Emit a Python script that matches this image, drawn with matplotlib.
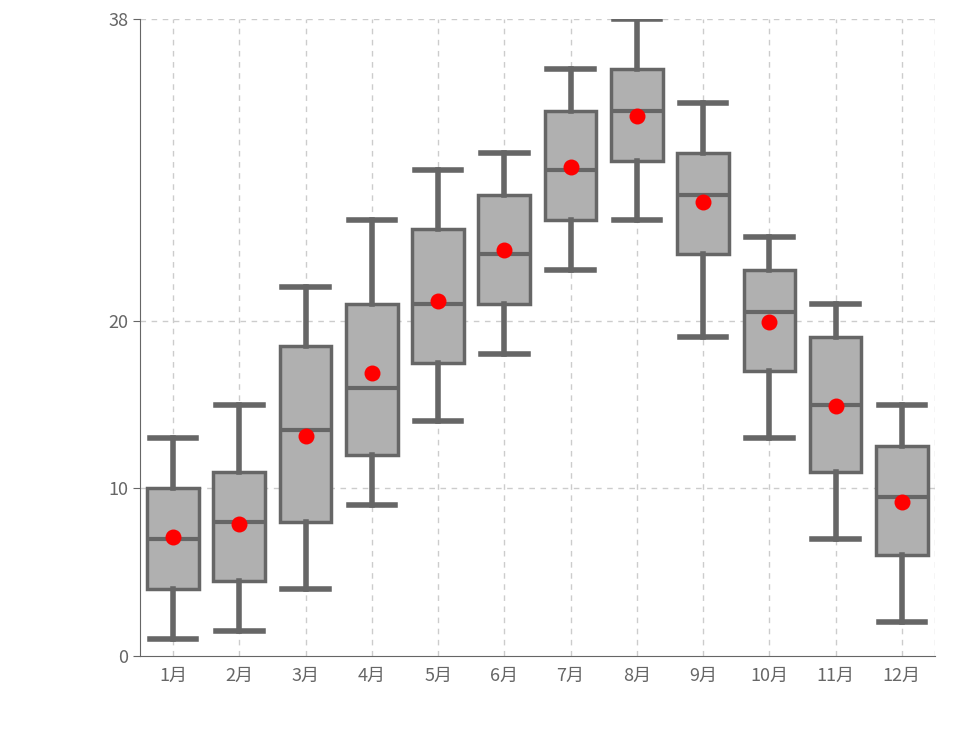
import matplotlib
matplotlib.use("Agg")
import matplotlib.pyplot as plt

plt.rcParams['font.family'] = ['Noto Sans CJK SC', 'DejaVu Sans']

months = ["1月","2月","3月","4月","5月","6月","7月","8月","9月","10月","11月","12月"]
lows   = [1.0, 1.5, 4.0, 9.0, 14.0, 18.0, 23.0, 26.0, 19.0, 13.0, 7.0, 2.0]
q1s    = [4.0, 4.5, 8.0, 12.0, 17.5, 21.0, 26.0, 29.5, 24.0, 17.0, 11.0, 6.0]
meds   = [7.0, 8.0, 13.5, 16.0, 21.0, 24.0, 29.0, 32.5, 27.5, 20.5, 15.0, 9.5]
q3s    = [10.0, 11.0, 18.5, 21.0, 25.5, 27.5, 32.5, 35.0, 30.0, 23.0, 19.0, 12.5]
highs  = [13.0, 15.0, 22.0, 26.0, 29.0, 30.0, 35.0, 38.0, 33.0, 25.0, 21.0, 15.0]
means  = [7.1, 7.9, 13.1, 16.9, 21.2, 24.2, 29.2, 32.2, 27.1, 19.9, 14.9, 9.2]
yticks = [0, 10, 20, 38]

fig = plt.figure(figsize=(9.56, 7.36), dpi=100)
ax = fig.add_axes([0.1464, 0.1087, 0.8316, 0.8655])

stats = [dict(whislo=l, q1=a, med=m, q3=b, whishi=h, label=n)
         for l, a, m, b, h, n in zip(lows, q1s, meds, q3s, highs, months)]
pos = list(range(len(months)))
gray = '#666666'
ax.bxp(stats, positions=pos, widths=0.78, showfliers=False, patch_artist=True,
       boxprops=dict(facecolor='#b0b0b0', edgecolor=gray, linewidth=2.5),
       medianprops=dict(color=gray, linewidth=3),
       whiskerprops=dict(color=gray, linewidth=4),
       capprops=dict(color=gray, linewidth=4), capwidths=0.7, zorder=3)
ax.scatter(pos, means, color='red', s=110, zorder=5)

ax.set_xlim(-0.5, len(months) - 0.5)
ax.set_ylim(0, 38)
ax.set_yticks(yticks)
ax.set_xticks(pos)
ax.set_xticklabels(months)
for x in pos + [len(months) - 0.5]:
    ax.axvline(x, color='#cccccc', linestyle=(0, (4, 4)), linewidth=1, zorder=0)
for y in yticks[1:]:
    ax.axhline(y, color='#cccccc', linestyle=(0, (4, 4)), linewidth=1, zorder=0)
for s in ['top', 'right']:
    ax.spines[s].set_visible(False)
for s in ['left', 'bottom']:
    ax.spines[s].set_color(gray)
ax.tick_params(colors=gray, labelsize=13, length=5)
ax.tick_params(axis='x', length=0, pad=8)

fig.savefig('out.png', dpi=100)
